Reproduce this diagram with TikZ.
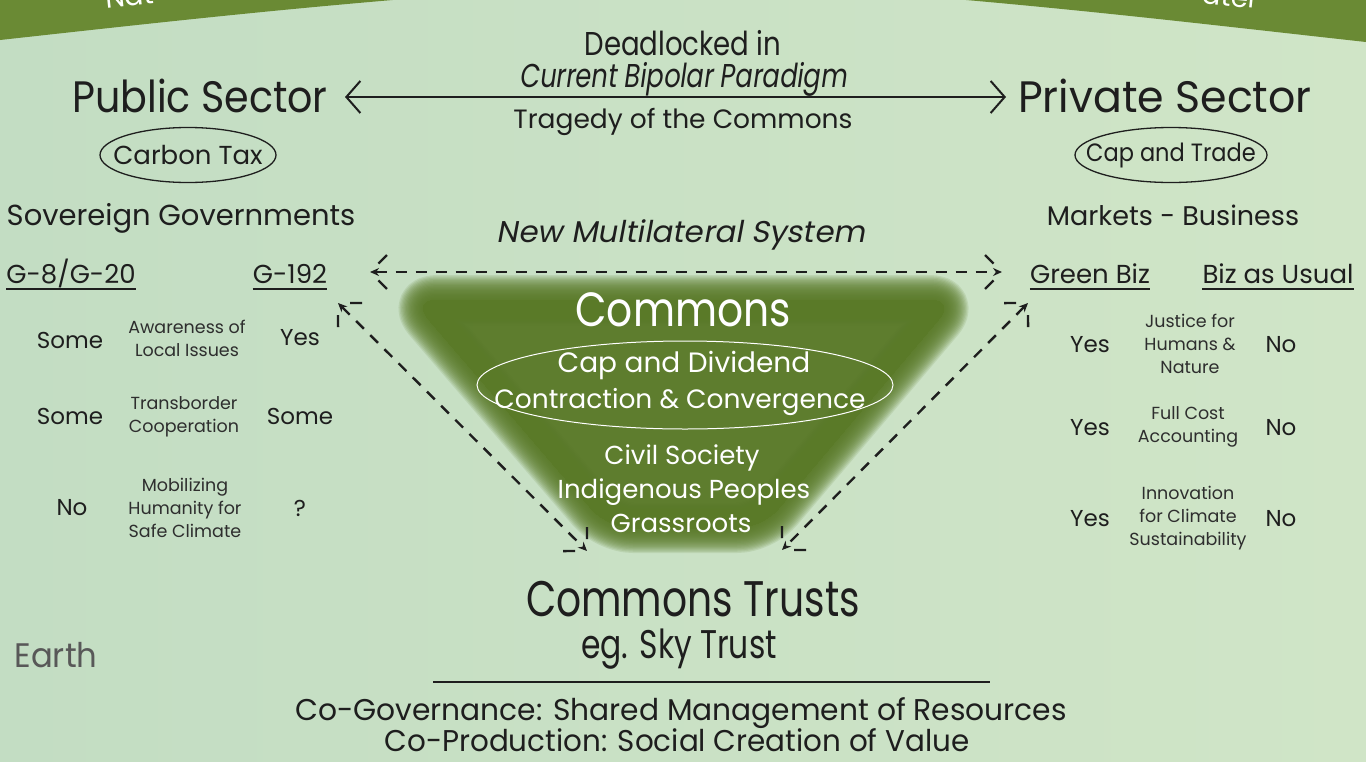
\documentclass[tikz,border=0pt]{standalone}
\usepackage{fontspec}
\usepackage{graphicx}
\setmainfont{Poppins}
\newfontfamily\rgi[FakeSlant=0.18]{Poppins}
\usetikzlibrary{arrows.meta,calc,shapes.geometric}
\definecolor{bgL}{HTML}{C3DDC3}
\definecolor{bgR}{HTML}{D0E5C7}
\definecolor{band}{HTML}{6A8A34}
\definecolor{moss}{HTML}{5A7A28}
\definecolor{ink}{HTML}{1E1E1E}
\definecolor{ink2}{HTML}{2E2E2E}
\newcommand\fsz[2]{\fontsize{#1}{#2}\selectfont}
\newcommand\hs[2]{\scalebox{#1}[1]{#2}}
\begin{document}
\begin{tikzpicture}[x=1pt,y=-1pt,
  txt/.style={inner sep=0pt,text=ink,anchor=base},
  wtxt/.style={inner sep=0pt,text=white,anchor=base},
  cell/.style={inner sep=0pt,text=ink2,align=center,font=\fsz{17.5}{23}},
  val/.style={inner sep=0pt,text=ink,font=\fsz{23}{26}},
  oval/.style={draw=ink,line width=1.3pt},
  uline/.style={draw=ink,line width=2pt},
  bigarrow/.style={draw=ink,line width=2.4pt,{Straight Barb[length=14pt,width=32pt,line width=2pt]}-{Straight Barb[length=14pt,width=32pt,line width=2pt]}},
  dline/.style={draw=ink,line width=2.4pt,dash pattern=on 11pt off 9pt,{Stealth[length=9pt,width=8pt]}-{Stealth[length=9pt,width=8pt]}},
  dleg/.style={draw=ink,line width=2.4pt,dash pattern=on 0pt off 12pt on 12pt off 40pt}
]
\useasboundingbox (0,0) rectangle (1366,761);
% background
\shade[left color=bgL,right color=bgR] (0,0) rectangle (1366,761);
\fill[band] (0,-30) -- (0,40) .. controls (200,18) and (400,-5) .. (683,-20) .. controls (966,-5) and (1166,20) .. (1366,42) -- (1366,-30) -- cycle;
\node[wtxt,anchor=base west,rotate=6,font=\fsz{28}{30}] (nat) at (106,9) {Nat};
\node[wtxt,anchor=base east,rotate=-6,font=\fsz{28}{30}] (wat) at (1258,9) {ater};

% commons blob
\foreach \k in {1,...,20}{
  \path[fill=moss,draw=moss,line width=2.5*\k pt,opacity=0.13,transparency group,line join=round,rounded corners=25pt]
    (412,300) -- (955,300) -- (762,528) -- (608,528) -- cycle;
}

% top texts
\node[txt,font=\fsz{33}{36}] (dead) at (683,55) {\hs{0.836}{Deadlocked in}};
\node[txt,font=\rgi\fsz{33}{36}] (cbp) at (683,87) {\hs{0.78}{Current Bipolar Paradigm}};
\node[txt,font=\fsz{44}{50}] (pub) at (200,112) {\hs{0.9}{Public Sector}};
\node[txt,font=\fsz{44}{50}] (priv) at (1165,112) {\hs{0.97}{Private Sector}};
\node[txt,font=\fsz{26.5}{28}] (trag) at (683,128) {Tragedy of the Commons};
\draw[bigarrow] (345,97) coordinate (aL) -- (1006,97) coordinate (aR);

\node[inner sep=0pt,font=\fsz{26}{28},text=ink] (ctax) at (188,155) {Carbon Tax};
\draw[oval] (ctax.center) ellipse [x radius=88pt, y radius=27.5pt];
\node[inner sep=0pt,font=\fsz{25}{28},text=ink] (ctrade) at (1171,155) {\hs{0.9}{Cap and Trade}};
\draw[oval] (ctrade.center) ellipse [x radius=96pt, y radius=27.5pt];

\node[txt,font=\fsz{29}{30}] (sov) at (181,225) {Sovereign Governments};
\node[txt,font=\fsz{27}{30}] (mkt) at (1173,225) {Markets - Business};
\node[txt,font=\rgi\fsz{30}{30}] (nms) at (681,242) {\hs{1.03}{New Multilateral System}};

% column heads
\node[txt,font=\fsz{26}{30}] (g8) at (71,283) {G-8/G-20};
\node[txt,font=\fsz{26}{30}] (g192) at (290,283) {G-192};
\node[txt,font=\fsz{26}{30}] (gbiz) at (1090,283) {Green Biz};
\node[txt,font=\fsz{26}{30}] (bau) at (1278,283) {Biz as Usual};
\foreach \n in {g8,g192,gbiz,bau}{
  \draw[uline] ([yshift=-6pt]\n.base west) -- ([yshift=-6pt]\n.base east);
}

% left table
\node[val] (l1a) at (70,340) {Some};
\node[cell] (l1b) at (187,338) {Awareness of\\Local Issues};
\node[val] (l1c) at (300,338) {Yes};
\node[val] (l2a) at (70,416) {Some};
\node[cell] (l2b) at (184,417) {Transborder\\Cooperation};
\node[val] (l2c) at (300,416) {Some};
\node[val] (l3a) at (72,508) {No};
\node[cell] (l3b) at (185,508) {Mobilizing\\Humanity for\\Safe Climate};
\node[val] (l3c) at (300,508) {?};

% right table
\node[val] (r1a) at (1090,345) {Yes};
\node[cell] (r1b) at (1190,344) {Justice for\\Humans \&\\Nature};
\node[val] (r1c) at (1281,345) {No};
\node[val] (r2a) at (1090,428) {Yes};
\node[cell] (r2b) at (1188,427) {Full Cost\\Accounting};
\node[val] (r2c) at (1281,428) {No};
\node[val] (r3a) at (1090,519) {Yes};
\node[cell] (r3b) at (1188,518) {Innovation\\for Climate\\Sustainability};
\node[val] (r3c) at (1281,519) {No};

% commons texts
\node[wtxt,font=\fsz{48}{50}] (com) at (683,326) {\hs{0.85}{Commons}};
\node[draw=white,line width=1pt,ellipse,minimum width=416pt,minimum height=88pt,inner sep=0pt] (cdell) at (685,385) {};
\node[wtxt,font=\fsz{28}{28}] (cad) at (684,372) {Cap and Dividend};
\node[wtxt,font=\fsz{26.5}{28}] (cac) at (680,408) {Contraction \& Convergence};
\node[wtxt,font=\fsz{26}{26}] (civ) at (682,464) {Civil Society};
\node[wtxt,font=\fsz{26}{26}] (ind) at (684,498) {Indigenous Peoples};
\node[wtxt,font=\fsz{26}{26}] (gra) at (681,532) {Grassroots};

% bottom texts
\node[txt,font=\fsz{50}{54}] (trusts) at (693,616) {\hs{0.785}{Commons Trusts}};
\node[txt,font=\fsz{40}{44}] (sky) at (679,658) {\hs{0.785}{eg. Sky Trust}};
\draw[ink,line width=2pt] (433,682) coordinate (hl1) -- (990,682) coordinate (hl2);
\node[txt,font=\fsz{30}{32}] (cogov) at (681,720) {\hs{0.99}{Co-Governance: Shared Management of Resources}};
\node[txt,font=\fsz{30}{32}] (coprod) at (677,751) {\hs{0.98}{Co-Production: Social Creation of Value}};
\node[txt,font=\fsz{34}{36},text=ink2!80] (earth) at (56,667) {\hs{0.95}{Earth}};

% dashed connectors
\coordinate (hA) at (370,272);
\coordinate (hB) at (1002,272);
\coordinate (dL1) at (338,303);
\coordinate (dL2) at (587,551);
\coordinate (dR1) at (1028,303);
\coordinate (dR2) at (782,550);
\foreach \a/\b in {hA/hB,dL1/dL2,dR1/dR2}{
  \draw[dline] (\a) -- (\b);
  \draw[dleg] (\a) -- ($(\a)!28pt!45:(\b)$);
  \draw[dleg] (\a) -- ($(\a)!28pt!-45:(\b)$);
  \draw[dleg] (\b) -- ($(\b)!28pt!45:(\a)$);
  \draw[dleg] (\b) -- ($(\b)!28pt!-45:(\a)$);
}
\end{tikzpicture}
\end{document}
